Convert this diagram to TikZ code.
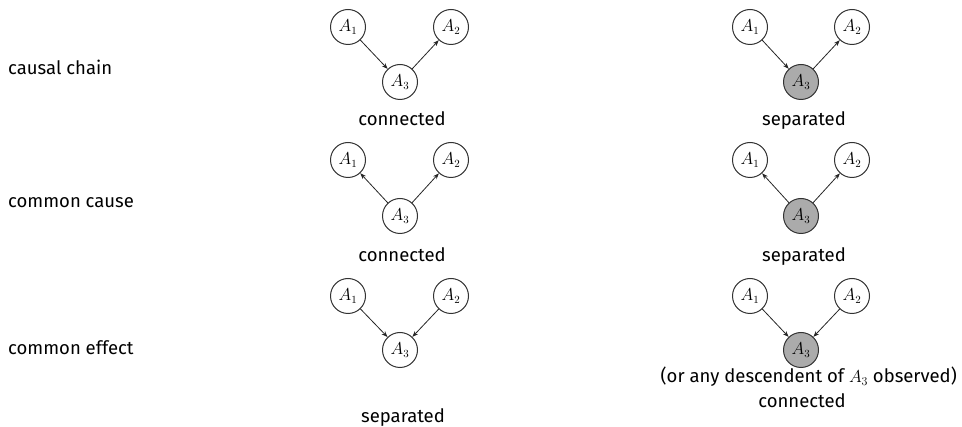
\documentclass[tikz,border=0pt]{standalone}
\usepackage{fontspec}
\setmainfont{Fira Sans}
\usetikzlibrary{arrows.meta}
\begin{document}
\begin{tikzpicture}[x=1pt,y=-1pt,
  var/.style={circle,draw=black!80,line width=1pt,minimum size=35pt,inner sep=0pt,fill=white,font=\fontsize{16}{18}\selectfont},
  obs/.style={var,fill=black!33},
  edge/.style={draw=black!85,line width=0.8pt,-{Stealth[length=6pt,width=4.5pt]}},
  txt/.style={anchor=base,inner sep=0pt,font=\fontsize{18.5}{22}\selectfont},
  rowlabel/.style={txt,anchor=base west}]
\useasboundingbox (0,0) rectangle (962,427);
% row labels
\node[rowlabel] (l1) at (8,75) {causal chain};
\node[rowlabel] (l2) at (8,208) {common cause};
\node[rowlabel] (l3) at (8,355) {common effect};
% row 1 left
\node[var] (a1) at (348,27) {$A_1$};
\node[var] (a2) at (451,27) {$A_2$};
\node[var] (a3) at (400,82) {$A_3$};
\draw[edge] (a1) -- (a3);
\draw[edge] (a3) -- (a2);
\node[txt] (c1) at (402,126) {connected};
% row 1 right
\node[var] (b1) at (750,27) {$A_1$};
\node[var] (b2) at (852,27) {$A_2$};
\node[obs] (b3) at (801,82) {$A_3$};
\draw[edge] (b1) -- (b3);
\draw[edge] (b3) -- (b2);
\node[txt] (s1) at (804,126) {separated};
% row 2 left
\node[var] (d1) at (348,160) {$A_1$};
\node[var] (d2) at (451,160) {$A_2$};
\node[var] (d3) at (400,216) {$A_3$};
\draw[edge] (d3) -- (d1);
\draw[edge] (d3) -- (d2);
\node[txt] (c2) at (402,262) {connected};
% row 2 right
\node[var] (e1) at (750,160) {$A_1$};
\node[var] (e2) at (852,160) {$A_2$};
\node[obs] (e3) at (801,216) {$A_3$};
\draw[edge] (e3) -- (e1);
\draw[edge] (e3) -- (e2);
\node[txt] (s2) at (804,262) {separated};
% row 3 left
\node[var] (f1) at (348,296) {$A_1$};
\node[var] (f2) at (451,296) {$A_2$};
\node[var] (f3) at (400,350) {$A_3$};
\draw[edge] (f1) -- (f3);
\draw[edge] (f2) -- (f3);
\node[txt] (s3) at (403,423) {separated};
% row 3 right
\node[var] (g1) at (750,296) {$A_1$};
\node[var] (g2) at (852,296) {$A_2$};
\node[obs] (g3) at (801,350) {$A_3$};
\draw[edge] (g1) -- (g3);
\draw[edge] (g2) -- (g3);
\node[txt,anchor=base east] (n3) at (957,383) {(or any descendent of $A_3$ observed)};
\node[txt] (c3) at (802,408) {connected};
\end{tikzpicture}
\end{document}
